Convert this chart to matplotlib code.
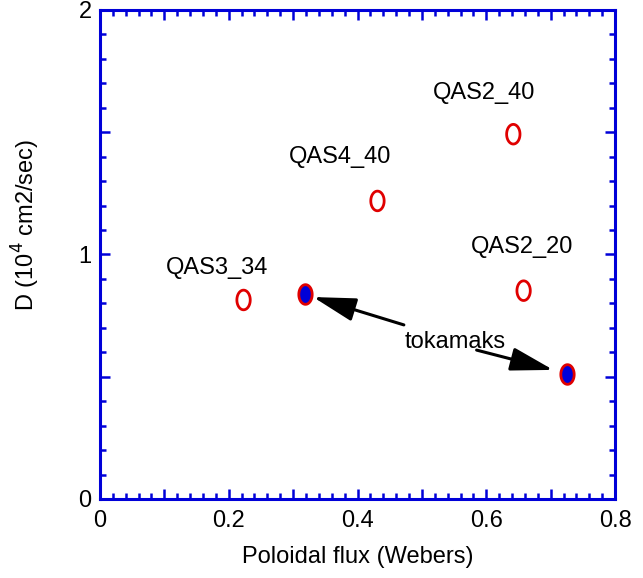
import matplotlib
matplotlib.use("Agg")
import matplotlib.pyplot as plt
import numpy as np
from matplotlib.path import Path
from matplotlib.ticker import MultipleLocator, FuncFormatter

# --- data ---
open_names = ["QAS3_34", "QAS4_40", "QAS2_40", "QAS2_20"]
open_x = [0.223, 0.431, 0.642, 0.658]
open_y = [0.814, 1.219, 1.492, 0.852]

label_x = [0.182, 0.373, 0.596, 0.655]
label_y = [0.943, 1.40, 1.66, 1.03]

tok_x = [0.319, 0.725]
tok_y = [0.837, 0.511]

tok_label = "tokamaks"
tok_label_xy = (0.551, 0.641)
arrow_start = [(0.472, 0.712), (0.585, 0.609)]
arrow_tip = [(0.331, 0.826), (0.704, 0.528)]

BLUE = "#0000d8"
RED = "#e00000"

plt.rcParams['font.family'] = ['Liberation Sans', 'DejaVu Sans']

# tall ellipse marker
t = np.linspace(0, 2 * np.pi, 60)
ellipse = Path(np.column_stack([0.68 * np.cos(t), np.sin(t)]), closed=True)

fig = plt.figure(figsize=(6.43, 5.78), dpi=100)
ax = fig.add_axes([0.1555, 0.1367, 0.801, 0.846])

ax.scatter(open_x, open_y, marker=ellipse, s=200, facecolors="none",
           edgecolors=RED, linewidths=2.0, zorder=3)
ax.scatter(tok_x, tok_y, marker=ellipse, s=200, facecolors=BLUE,
           edgecolors=RED, linewidths=2.0, zorder=3)

for name, lx, ly in zip(open_names, label_x, label_y):
    ax.text(lx, ly, name, ha="center", va="center", fontsize=17)

ax.text(tok_label_xy[0], tok_label_xy[1], tok_label, ha="center", va="center",
        fontsize=17)
for start, tip in zip(arrow_start, arrow_tip):
    ax.annotate("", xy=tip, xytext=start,
                arrowprops=dict(arrowstyle="-|>,head_length=1.75,head_width=0.48",
                                mutation_scale=15, lw=2.2, color="black",
                                shrinkA=0, shrinkB=0))

ax.set_xlim(0, 0.8)
ax.set_ylim(0, 2)
ax.xaxis.set_major_locator(MultipleLocator(0.1))
ax.xaxis.set_minor_locator(MultipleLocator(0.02))
ax.yaxis.set_major_locator(MultipleLocator(0.5))
ax.yaxis.set_minor_locator(MultipleLocator(0.1))


def xfmt(v, pos):
    k = int(round(v * 10))
    if k % 2:
        return ""
    return "0" if k == 0 else f"{v:.1f}"


def yfmt(v, pos):
    if abs(v - round(v)) > 1e-6:
        return ""
    return f"{int(round(v))}"


ax.xaxis.set_major_formatter(FuncFormatter(xfmt))
ax.yaxis.set_major_formatter(FuncFormatter(yfmt))

for sp in ax.spines.values():
    sp.set_color(BLUE)
    sp.set_linewidth(2.2)
ax.tick_params(which="both", direction="in", top=True, right=True,
               color=BLUE, labelcolor="black", labelsize=17, width=1.8)
ax.tick_params(which="major", length=7.5)
ax.tick_params(axis="x", which="major", pad=8)
ax.tick_params(axis="y", which="major", pad=6)
ax.tick_params(which="minor", length=4.5)

ax.set_xlabel("Poloidal flux (Webers)", fontsize=17, labelpad=10)
ax.set_ylabel("D (10$^{4}$ cm2/sec)", fontsize=17)
ax.yaxis.set_label_coords(-0.112, 0.56)

fig.savefig("out.png", dpi=100)
